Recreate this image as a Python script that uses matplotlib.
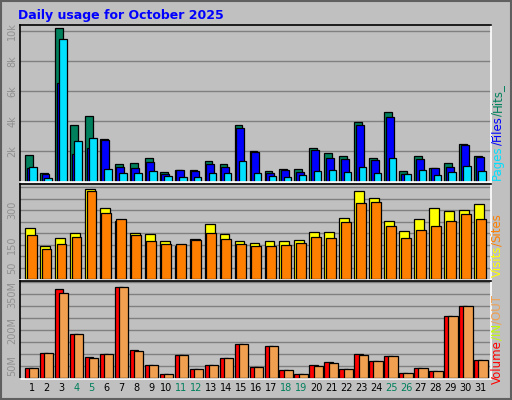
import matplotlib
matplotlib.use("Agg")
import matplotlib.pyplot as plt
import matplotlib.transforms as mtransforms
import numpy as np

days = list(range(1, 32))
weekends = [4, 5, 11, 12, 18, 19, 25, 26]

# values in thousands
hits = [1.76, 0.56, 10.15, 3.76, 4.36, 2.82, 1.16, 1.22, 1.58, 0.62, 0.76, 0.76, 1.36, 1.16, 3.76, 2.02,
        0.69, 0.82, 0.82, 2.22, 1.89, 1.69, 3.96, 1.58, 4.62, 0.69, 1.69, 0.89, 1.22, 2.49, 1.69]
files = [0.89, 0.49, 6.56, 1.82, 2.22, 2.76, 0.96, 0.89, 1.29, 0.49, 0.76, 0.69, 1.16, 0.96, 3.56, 1.96,
         0.56, 0.76, 0.62, 2.09, 1.56, 1.49, 3.76, 1.42, 4.29, 0.49, 1.49, 0.89, 0.96, 2.42, 1.62]
pages = [0.96, 0.22, 9.42, 2.69, 2.89, 0.82, 0.56, 0.56, 0.69, 0.36, 0.29, 0.29, 0.56, 0.56, 1.36, 0.56,
         0.36, 0.29, 0.42, 0.69, 0.76, 0.62, 0.96, 0.56, 1.56, 0.49, 0.76, 0.42, 0.62, 1.02, 0.69]
visits = [222, 143, 178, 200, 390, 310, 253, 200, 196, 165, 143, 173, 240, 196, 165, 156,
          165, 165, 169, 204, 204, 266, 381, 354, 253, 209, 262, 310, 297, 301, 328]
sites = [191, 129, 151, 182, 381, 288, 262, 191, 165, 151, 151, 169, 200, 173, 151, 143,
         143, 147, 156, 182, 178, 248, 332, 337, 231, 178, 213, 231, 253, 284, 262]
# MB
volume = [42, 106, 372, 182, 89, 102, 381, 118, 55, 17, 97, 38, 55, 85, 140, 46,
          135, 34, 17, 55, 68, 38, 102, 72, 93, 21, 42, 30, 258, 300, 76]
out = [42, 106, 355, 182, 85, 102, 381, 114, 55, 17, 97, 38, 55, 85, 140, 46,
       135, 34, 17, 51, 63, 38, 97, 72, 93, 21, 42, 30, 258, 300, 76]

BG = "#C0C0C0"
fig = plt.figure(figsize=(5.12, 4.0), dpi=100, facecolor=BG)
W, H = 512.0, 400.0


def panel(top, bottom):
    ax = fig.add_axes([20 / W, 1 - bottom / H, 471 / W, (bottom - top) / H], facecolor=BG)
    for s in ["top", "left"]:
        ax.spines[s].set_color("black")
    for s in ["bottom", "right"]:
        ax.spines[s].set_color("white")
    for s in ax.spines.values():
        s.set_linewidth(1.2)
    ax.set_xlim(0.216, 31.68)
    ax.set_xticks([])
    ax.tick_params(axis="y", length=0, labelsize=7, labelcolor="#909090", pad=2)
    ax.set_axisbelow(True)
    return ax


def bars(ax, vals, off, width, color):
    x = np.array(days) - 0.45 + off + width / 2
    ax.bar(x, vals, width=width, color=color, edgecolor="black", linewidth=0.9)


ax1 = panel(25, 182)
for g in range(2, 11, 2):
    ax1.axhline(g, color="#808080", lw=1, zorder=0)
bars(ax1, hits, 0.0, 0.52, "#00805C")
bars(ax1, files, 0.11, 0.52, "#0000FF")
bars(ax1, pages, 0.29, 0.5, "#00E0FF")
ax1.set_ylim(-0.03, 10.38)
ax1.set_yticks([2, 4, 6, 8, 10], ["2k", "4k", "6k", "8k", "10k"], rotation=90, va="center")

ax2 = panel(184, 280)
for g in range(50, 401, 50):
    ax2.axhline(g, color="#808080", lw=1, zorder=0)
bars(ax2, visits, 0.0, 0.66, "#FFFF00")
bars(ax2, sites, 0.11, 0.66, "#FF8000")
ax2.set_ylim(-3.5, 413)
ax2.set_yticks([50, 150, 300], ["50", "150", "300"], rotation=90, va="center")

ax3 = panel(281, 379)
for g in range(50, 401, 50):
    ax3.axhline(g, color="#808080", lw=1, zorder=0)
bars(ax3, volume, 0.0, 0.55, "#FF0000")
bars(ax3, out, 0.28, 0.62, "#F0A050")
ax3.set_ylim(-4, 405)
ax3.set_yticks([50, 200, 350], ["50M", "200M", "350M"], rotation=90, va="center")

trans = mtransforms.blended_transform_factory(ax3.transData, fig.transFigure)
for d in days:
    ax3.text(d, 1 - 388 / H, str(d), transform=trans, ha="center", va="center", fontsize=7,
             color="#00805C" if d in weekends else "black", clip_on=False)

fig.text(18 / W, 1 - 15 / H, "Daily usage for October 2025", color="#0000FF",
         fontsize=9, fontweight="bold", va="center", ha="left")

renderer = fig.canvas.get_renderer()


def side(parts, x, y0):
    y = 1 - y0 / H
    for text, color in parts:
        t = fig.text(x / W, y, text, color=color, rotation=90, fontsize=8.5,
                     ha="center", va="bottom", rotation_mode="default")
        bb = t.get_window_extent(renderer)
        y += bb.height / (H)


side([("Pages", "#00E0FF"), ("/", "#0000FF"), ("Files", "#0000FF"),
      ("/", "#00805C"), ("Hits_", "#00805C")], 497, 180)
side([("Visits", "#FFFF00"), ("/", "#FF8000"), ("Sites", "#FF8000")], 497, 277)
side([("Volume", "#FF0000"), ("/IN", "#C0FF00"), ("/OUT", "#F0A050")], 497, 384)

# outer frame
fig.patches.append(plt.Rectangle((0.002, 0.002), 0.996, 0.996, transform=fig.transFigure,
                                 fill=False, edgecolor="#606060", lw=1.5))

fig.savefig("out.png", dpi=100, facecolor=BG)
